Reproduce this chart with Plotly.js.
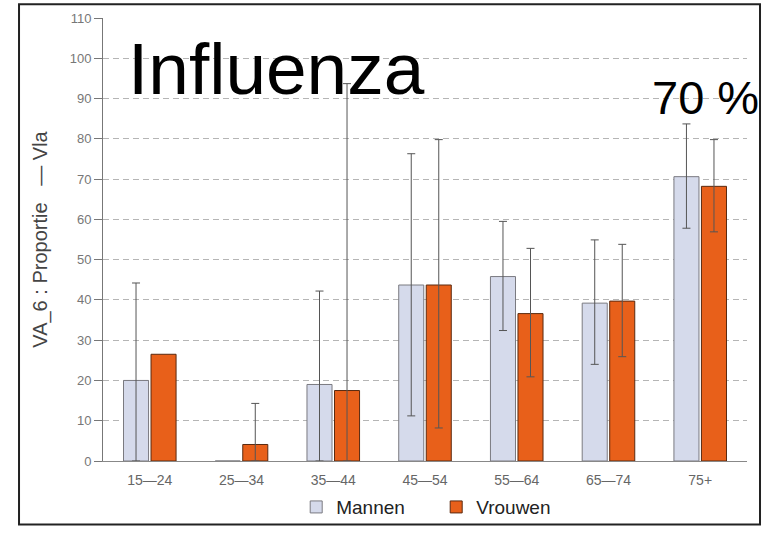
<!DOCTYPE html>
<html>
<head>
<meta charset="utf-8">
<script src="https://cdn.plot.ly/plotly-3.0.1.min.js"></script>
<style>html,body{margin:0;padding:0;background:#fff;}#chart{width:766px;height:538px;}</style>
</head>
<body>
<div id="chart"></div>
<script>
var categories = ['15\u201424', '25\u201434', '35\u201444', '45\u201454', '55\u201464', '65\u201474', '75+'];
var seriesNames = ['Mannen', 'Vrouwen'];
var mannen    = [20.0, 0,    19.0, 43.7, 45.8, 39.2, 70.6];
var mannenHi  = [44.2, null, 42.2, 76.3, 59.5, 54.9, 83.7];
var mannenLo  = [0,    null, 0,    11.2, 32.4, 24.0, 57.8];
var vrouwen   = [26.5, 4.1,  17.5, 43.7, 36.6, 39.7, 68.2];
var vrouwenHi = [null, 14.3, 93.7, 79.8, 52.8, 53.8, 79.8];
var vrouwenLo = [null, 0,    0,    8.2,  20.9, 25.9, 56.9];
var yTicks = [0, 10, 20, 30, 40, 50, 60, 70, 80, 90, 100, 110];
var titleText = 'Influenza';
var highlightText = '70 %';
var yTitle = 'VA_6 : Proportie \u00a0\u00a0\u2014 Vla';

function plus(v, hi) { return v.map(function (d, i) { return hi[i] == null ? NaN : hi[i] - d; }); }
function minus(v, lo) { return v.map(function (d, i) { return lo[i] == null ? NaN : d - lo[i]; }); }

var errStyle = { type: 'data', symmetric: false, color: '#555', thickness: 1, width: 4 };

var traces = [
  {
    type: 'bar', name: seriesNames[0], x: categories, y: mannen,
    marker: { color: '#d5daeb', line: { color: '#7a7a80', width: 1 } },
    error_y: Object.assign({}, errStyle, { array: plus(mannen, mannenHi), arrayminus: minus(mannen, mannenLo) })
  },
  {
    type: 'bar', name: seriesNames[1], x: categories, y: vrouwen,
    marker: { color: '#e8601a', line: { color: '#5a2a10', width: 1 } },
    error_y: Object.assign({}, errStyle, { array: plus(vrouwen, vrouwenHi), arrayminus: minus(vrouwen, vrouwenLo) })
  }
];

var layout = {
  width: 766, height: 538,
  margin: { l: 103, r: 19, t: 18, b: 67 },
  paper_bgcolor: '#fff', plot_bgcolor: '#fff',
  font: { family: 'Liberation Sans, Arial, sans-serif', color: '#555' },
  barmode: 'group', bargap: 0.4, bargroupgap: 0.09,
  showlegend: true,
  legend: { orientation: 'h', x: 0.30, y: -0.104, xanchor: 'left', yanchor: 'middle',
            font: { size: 19, color: '#222' }, bgcolor: 'rgba(0,0,0,0)', itemwidth: 30,
            entrywidth: 95, tracegroupgap: 0 },
  xaxis: {
    type: 'category', range: [-0.51, 6.51], showgrid: false,
    ticks: 'outside', ticklen: 6, tickcolor: 'rgba(0,0,0,0)',
    showline: true, linecolor: '#888', linewidth: 1,
    tickfont: { size: 14, color: '#666' }, zeroline: false, fixedrange: true
  },
  yaxis: {
    range: [0, 110], tickvals: yTicks, ticktext: yTicks.map(String),
    showgrid: true, gridcolor: '#b5b5b5', griddash: '6px,4px', gridwidth: 1,
    showline: true, linecolor: '#777', linewidth: 1,
    ticks: 'outside', ticklen: 8, tickcolor: '#777',
    tickfont: { size: 13, color: '#777' }, zeroline: false, automargin: false,
    title: { text: yTitle, font: { size: 20, color: '#444' }, standoff: 16 }
  },
  annotations: [
    { text: titleText, xref: 'paper', yref: 'paper', x: 0.036, y: 0.885, xanchor: 'left', yanchor: 'middle',
      showarrow: false, font: { size: 73, color: '#000', family: 'Liberation Sans, Arial, sans-serif' } },
    { text: highlightText, xref: 'paper', yref: 'paper', x: 0.9356, y: 0.821, xanchor: 'center', yanchor: 'middle',
      showarrow: false, font: { size: 47, color: '#000', family: 'Liberation Sans, Arial, sans-serif' } }
  ],
  shapes: [
    { type: 'rect', xref: 'paper', yref: 'paper', x0: -0.1304, x1: 1.0202, y0: -0.1435, y1: 1.0309,
      line: { color: '#222', width: 2 }, fillcolor: 'rgba(0,0,0,0)' }
  ]
};

Plotly.newPlot('chart', traces, layout, { displayModeBar: false, staticPlot: true });
</script>
</body>
</html>
